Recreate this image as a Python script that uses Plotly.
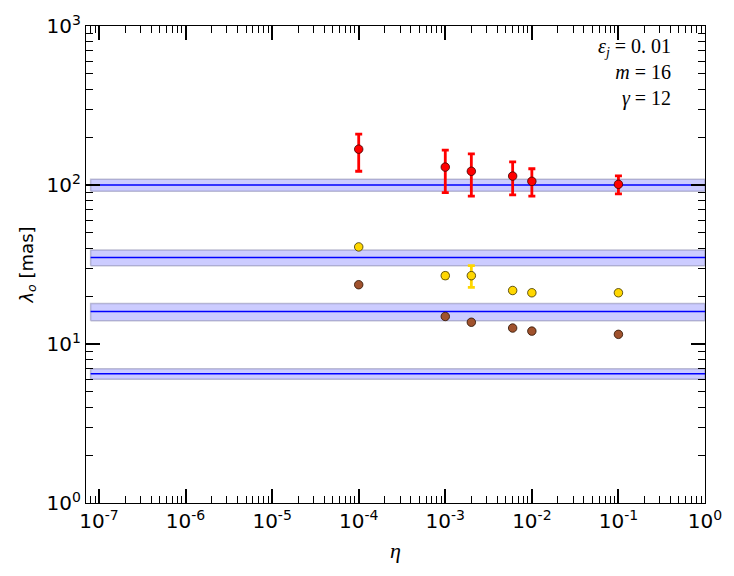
import plotly.graph_objects as go

# ---- data ----
eta = [1e-4, 1e-3, 2e-3, 6e-3, 1e-2, 1e-1]
red_vals = [168, 129.6, 122, 113.8, 105.5, 101]
red_err_plus = [41, 36, 35, 26, 21, 13]
red_err_minus = [46, 40, 37, 27, 20.5, 13]
yellow_vals = [40.8, 26.9, 26.9, 21.7, 21.0, 21.0]
yellow_err = [0.3, 1.0, 4.2, 0.5, 0.5, 0.6]
brown_vals = [23.6, 14.9, 13.7, 12.6, 12.05, 11.5]

band_centers = [100, 35, 16, 6.5]
band_errs = [8.5, 4, 2, 0.5]
band_x = [8e-8, 1.0]

xtick_exps = [-7, -6, -5, -4, -3, -2, -1, 0]
ytick_exps = [0, 1, 2, 3]

x_minor = [d * 10 ** e for e in range(-8, 0) for d in range(2, 10)]
y_minor = [d * 10 ** e for e in range(0, 3) for d in range(2, 10)]

fig = go.Figure()

for c, e in zip(band_centers, band_errs):
    fig.add_trace(go.Scatter(
        x=[band_x[0], band_x[1], band_x[1], band_x[0], band_x[0]],
        y=[c - e, c - e, c + e, c + e, c - e],
        mode="lines", fill="toself",
        fillcolor="rgba(0,0,255,0.2)",
        line=dict(color="rgba(120,120,160,0.45)", width=1.5),
        hoverinfo="skip", showlegend=False))
    fig.add_trace(go.Scatter(
        x=band_x, y=[c, c], mode="lines",
        line=dict(color="#0000ff", width=1.5),
        hoverinfo="skip", showlegend=False))

fig.add_trace(go.Scatter(
    x=eta, y=red_vals, mode="markers",
    marker=dict(color="#ff0000", size=8.5, line=dict(color="#3a0000", width=0.8)),
    error_y=dict(type="data", symmetric=False, array=red_err_plus,
                 arrayminus=red_err_minus, color="#ff0000", thickness=2.8, width=3.5),
    showlegend=False))
fig.add_trace(go.Scatter(
    x=eta, y=yellow_vals, mode="markers",
    marker=dict(color="#ffd700", size=8.5, line=dict(color="#3a3000", width=0.8)),
    error_y=dict(type="data", array=yellow_err, color="#ffd700", thickness=2.8, width=3.5),
    showlegend=False))
fig.add_trace(go.Scatter(
    x=eta, y=brown_vals, mode="markers",
    marker=dict(color="#a0522d", size=8.5, line=dict(color="#2a1000", width=0.8)),
    showlegend=False))

axis_common = dict(
    showgrid=False, zeroline=False, showline=True, linecolor="black", linewidth=1.3,
    mirror="allticks", ticks="inside", ticklen=14, tickwidth=2, tickcolor="black",
    tickfont=dict(family="DejaVu Sans", size=20, color="black"),
)

fig.update_xaxes(type="log", range=[-7.15, 0],
                 tickvals=[10 ** e for e in xtick_exps],
                 ticktext=[f"10<sup>{e}</sup>" for e in xtick_exps],
                 minor=dict(tickvals=x_minor, ticks="inside", ticklen=7, tickwidth=1.2,
                            tickcolor="black", showgrid=False),
                 title=dict(text="<i>η</i>", font=dict(family="Liberation Serif", size=22, color="black"), standoff=10),
                 **axis_common)
fig.update_yaxes(type="log", range=[0, 3],
                 tickvals=[10 ** e for e in ytick_exps],
                 ticktext=[f"10<sup>{e}</sup>" for e in ytick_exps],
                 minor=dict(tickvals=y_minor, ticks="inside", ticklen=7, tickwidth=1.2,
                            tickcolor="black", showgrid=False),
                 title=dict(text="<i>λ<sub>o</sub></i> [mas]", font=dict(family="DejaVu Sans", size=18, color="black"), standoff=8),
                 **axis_common)

fig.add_annotation(
    xref="paper", yref="paper", x=0.949, y=0.985, xanchor="right", yanchor="top",
    align="right", showarrow=False,
    text="<i>ε<sub>j</sub></i> = 0. 01<br><i>m</i> = 16<br><i>γ</i> = 12",
    font=dict(family="Liberation Serif", size=20, color="black"))

fig.update_layout(
    width=734, height=576,
    margin=dict(l=86, r=29, t=23, b=73),
    plot_bgcolor="white", paper_bgcolor="white",
)

fig.write_html("out.html")
